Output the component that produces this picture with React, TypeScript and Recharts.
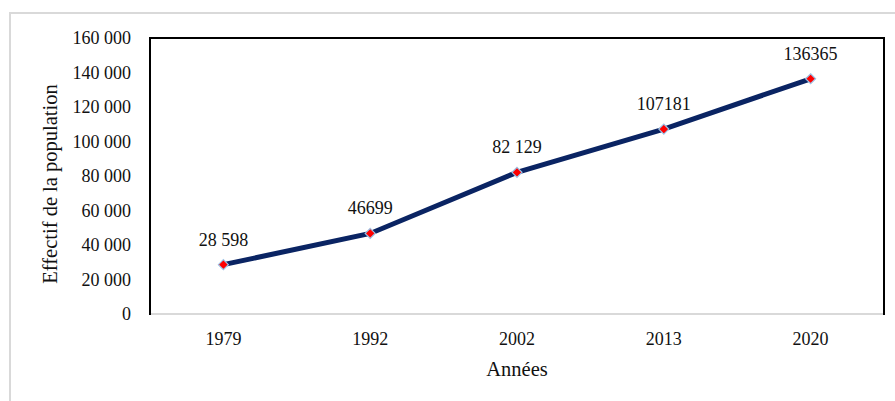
import { LineChart, Line, XAxis, YAxis, LabelList } from "recharts"

// values
const years = ["1979", "1992", "2002", "2013", "2020"]
const population = [28598, 46699, 82129, 107181, 136365]
const pointLabels = ["28 598", "46699", "82 129", "107181", "136365"]
const yTicks = [0, 20000, 40000, 60000, 80000, 100000, 120000, 140000, 160000]

const data = years.map((year, i) => ({ year, value: population[i], label: pointLabels[i] }))

const W = 895
const H = 401
const PLOT_LEFT = 150
const PLOT_TOP = 38
const PLOT_RIGHT = 884
const PLOT_BOTTOM = 314
const X_AXIS_H = 30
// half a category band, so points sit in the middle of each slot
const HALF_BAND = (PLOT_RIGHT - PLOT_LEFT) / years.length / 2

const font = "'Liberation Serif', 'Times New Roman', serif"
const textColor = "#111111"

// "160 000"
const fmtTick = (v: number) => v.toLocaleString("en-US").replace(/,/g, " ")

function Diamond(props: any) {
  const { cx, cy } = props
  if (cx == null || cy == null) return null
  const r = 5
  return (
    <polygon
      points={`${cx},${cy - r} ${cx + r},${cy} ${cx},${cy + r} ${cx - r},${cy}`}
      fill="#ff0000"
      stroke="#9dc3e6"
      strokeWidth={1.2}
    />
  )
}

const renderPointLabel = (props: any) => {
  const { x, y, value } = props
  if (x == null || y == null) return null
  return (
    <text x={x} y={y - 19} textAnchor="middle" style={{ fontFamily: font, fontSize: 18, fill: textColor }}>
      {value}
    </text>
  )
}

function YTitle(props: any) {
  const vb = props.viewBox || { x: 0, y: PLOT_TOP, width: PLOT_LEFT, height: PLOT_BOTTOM - PLOT_TOP }
  const x = vb.x + 50
  const y = vb.y + vb.height / 2 + 8
  return (
    <text
      x={x}
      y={y}
      transform={`rotate(-90, ${x}, ${y})`}
      textAnchor="middle"
      dominantBaseline="central"
      fontFamily={font}
      fontSize={20.5}
      fill={textColor}
    >
      Effectif de la population
    </text>
  )
}

export default function App() {
  return (
    <div style={{ position: "absolute", left: 0, top: 0, width: W, height: H, background: "#fff", overflow: "hidden" }}>
      {/* outer frame */}
      <div
        style={{
          position: "absolute",
          left: 9,
          top: 12,
          width: W,
          height: H,
          borderTop: "2px solid #d9d9d9",
          borderLeft: "2px solid #d9d9d9",
        }}
      />
      <LineChart
        width={W}
        height={H}
        data={data}
        margin={{ top: PLOT_TOP, right: W - PLOT_RIGHT, bottom: H - PLOT_BOTTOM - X_AXIS_H, left: 0 }}
        style={{ position: "absolute", left: 0, top: 0 }}
      >
        <XAxis
          dataKey="year"
          height={X_AXIS_H}
          padding={{ left: HALF_BAND, right: HALF_BAND }}
          axisLine={{ stroke: "#d9d9d9", strokeWidth: 2 }}
          tickLine={false}
          tickSize={0}
          tickMargin={18}
          tick={{ fontFamily: font, fontSize: 18, fill: textColor }}
          label={{
            value: "Années",
            position: "insideBottom",
            offset: -32,
            fontFamily: font,
            fontSize: 20.5,
            fill: textColor,
          }}
        />
        <YAxis
          width={PLOT_LEFT}
          domain={[0, 160000]}
          ticks={yTicks}
          interval={0}
          axisLine={false}
          tickLine={false}
          tickSize={0}
          tickMargin={19}
          tickFormatter={fmtTick}
          tick={{ fontFamily: font, fontSize: 18, fill: textColor }}
          label={<YTitle />}
        />
        <Line
          type="linear"
          dataKey="value"
          stroke="#0a2463"
          strokeWidth={5}
          dot={<Diamond />}
          activeDot={false}
          isAnimationActive={false}
        >
          <LabelList dataKey="label" content={renderPointLabel} />
        </Line>
      </LineChart>
      {/* plot area border: black on left, top and right */}
      <div
        style={{
          position: "absolute",
          left: PLOT_LEFT - 1,
          top: PLOT_TOP - 1,
          width: PLOT_RIGHT - PLOT_LEFT - 2,
          height: PLOT_BOTTOM - PLOT_TOP,
          borderLeft: "2px solid #000",
          borderTop: "2px solid #000",
          borderRight: "2px solid #000",
          pointerEvents: "none",
        }}
      />
    </div>
  )
}
